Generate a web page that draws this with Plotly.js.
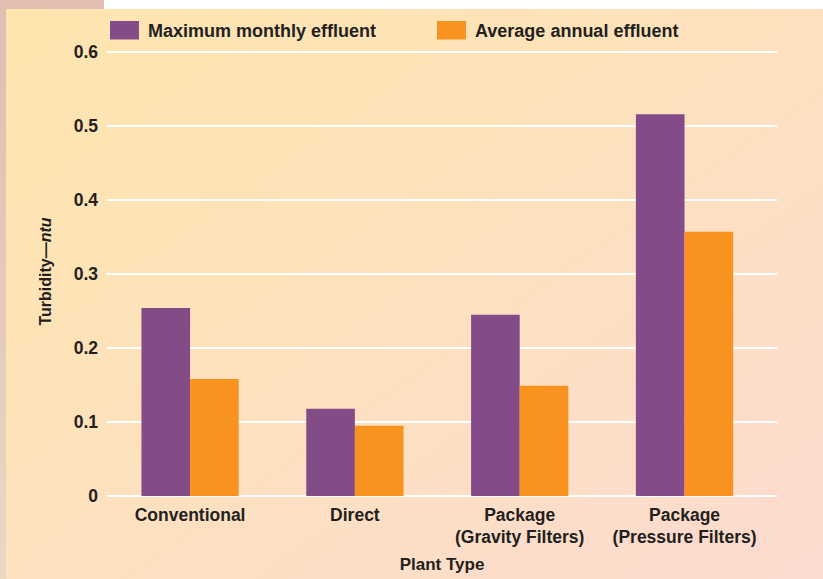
<!DOCTYPE html>
<html>
<head>
<meta charset="utf-8">
<script src="https://cdn.plot.ly/plotly-3.0.1.min.js"></script>
<style>
  html, body { margin: 0; padding: 0; }
  body { width: 823px; height: 579px; position: relative; overflow: hidden; background: #ffffff; }
  #leftstrip { position: absolute; left: 0; top: 0; width: 6px; height: 579px;
    background: linear-gradient(180deg, #E2BDB2 0%, #E6CCBE 60%, #EAD9C2 100%); }
  #topstrip { position: absolute; left: 0; top: 0; width: 104px; height: 9px; background: #E3BFB3; }
  #main { position: absolute; left: 6px; top: 9px; width: 817px; height: 570px;
    background: linear-gradient(145deg, #FEE5AE 0%, #FEE2BA 40%, #FDDFC4 65%, #FCDAD0 100%); }
  #chart { position: absolute; left: 0; top: 0; width: 823px; height: 579px; }
</style>
</head>
<body>
<div id="leftstrip"></div>
<div id="topstrip"></div>
<div id="main"></div>
<div id="chart"></div>
<script>
const categories = ["Conventional", "Direct", "Package<br>(Gravity Filters)", "Package<br>(Pressure Filters)"];
const seriesNames = ["Maximum monthly effluent", "Average annual effluent"];
const maxMonthly = [0.254, 0.118, 0.245, 0.516];
const avgAnnual = [0.158, 0.095, 0.149, 0.357];
const yTickVals = [0, 0.1, 0.2, 0.3, 0.4, 0.5, 0.6];
const yTickText = ["0", "0.1", "0.2", "0.3", "0.4", "0.5", "0.6"];
const colors = ["#834B88", "#F7931E"];

const FONT = "Liberation Sans, Arial, sans-serif";
const TXT = "#231F20";

const traces = [
  { type: "bar", name: seriesNames[0], x: categories, y: maxMonthly, marker: { color: colors[0] }, hoverinfo: "none" },
  { type: "bar", name: seriesNames[1], x: categories, y: avgAnnual, marker: { color: colors[1] }, hoverinfo: "none" }
];

// plot area: x 107..777, y 45..498
const L = 107, R = 46, T = 45, B = 81, W = 823, H = 579;
const pw = W - L - R, ph = H - T - B;
function px(x) { return (x - L) / pw; }
function py(y) { return (H - B - y) / ph; }

const legendItems = [
  { x0: 110, x1: 139, tx: 146 },
  { x0: 437, x1: 466, tx: 473 }
];
const shapes = [], annotations = [];
legendItems.forEach((it, i) => {
  shapes.push({ type: "rect", xref: "paper", yref: "paper", x0: px(it.x0), x1: px(it.x1), y0: py(39.5), y1: py(21),
    fillcolor: colors[i], line: { width: 0 } });
  annotations.push({ xref: "paper", yref: "paper", x: px(it.tx), y: py(31), xanchor: "left", yanchor: "middle",
    text: "<b>" + seriesNames[i] + "</b>", showarrow: false, font: { family: FONT, size: 18, color: TXT } });
});

const layout = {
  width: W, height: H,
  margin: { l: L, r: R, t: T, b: B, pad: 0 },
  paper_bgcolor: "rgba(0,0,0,0)",
  plot_bgcolor: "rgba(0,0,0,0)",
  barmode: "group",
  bargap: 0.41,
  bargroupgap: 0,
  showlegend: false,
  font: { family: FONT, color: TXT },
  xaxis: {
    type: "category",
    range: [-0.504, 3.561],
    showgrid: false, zeroline: false, showline: false, ticks: "",
    tickfont: { family: FONT, size: 17.5, color: TXT, weight: "bold" },
    ticklabelstandoff: 4,
    title: { text: "<b>Plant Type</b>", font: { family: FONT, size: 17, color: TXT }, standoff: 11 }
  },
  yaxis: {
    range: [-0.0027, 0.6095],
    tickvals: yTickVals, ticktext: yTickText,
    showgrid: true, gridcolor: "#FFFFFF", gridwidth: 1.5,
    zeroline: true, zerolinecolor: "#FFFFFF", zerolinewidth: 1.5,
    showline: false, ticks: "",
    tickfont: { family: FONT, size: 17.5, color: TXT, weight: "bold" },
    ticklabelstandoff: 8,
    title: { text: "<b>Turbidity—<i>ntu</i></b>", font: { family: FONT, size: 16, color: TXT }, standoff: 18 }
  },
  shapes: shapes,
  annotations: annotations
};

Plotly.newPlot("chart", traces, layout, { displayModeBar: false, staticPlot: true });
</script>
</body>
</html>
